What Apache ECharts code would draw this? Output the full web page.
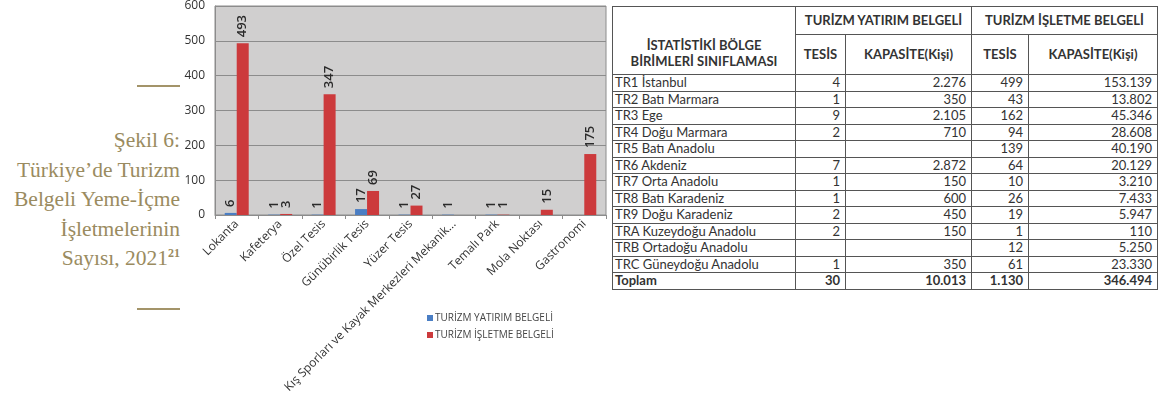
<!DOCTYPE html>
<html>
<head>
<meta charset="utf-8">
<script src="https://cdn.jsdelivr.net/npm/echarts@6/dist/echarts.min.js"></script>
<style>
  html, body { margin: 0; padding: 0; background: #fff; }
  body { width: 1162px; height: 403px; position: relative; overflow: hidden; }
  #caption {
    position: absolute; right: 982px; top: 126px; width: 220px;
    text-align: right; font-family: "Liberation Serif", serif; font-size: 21.5px;
    line-height: 29.5px; color: #9a8b60;
  }
  #caption sup { font-size: 12px; font-weight: bold; vertical-align: 8px; line-height: 0; }
  .rule { position: absolute; left: 137px; width: 43px; height: 2px; background: #a39469; }
  #chart { position: absolute; left: 180px; top: 0; width: 430px; height: 403px; }
  #tbl {
    position: absolute; left: 612px; top: 6px; width: 545px;
    border-collapse: collapse; table-layout: fixed;
    font-family: Lato, "Open Sans", sans-serif; font-size: 13px; color: #333;
  }
  #tbl td, #tbl th { border: 1px solid #555; padding: 0 5px; height: 15.5px; line-height: 15px; white-space: nowrap; overflow: hidden; }
  #tbl td:first-child { padding-left: 2px; }
  #tbl th { font-weight: bold; font-size: 13px; text-align: center; padding: 0 2px; }
  #tbl td.n { text-align: right; }
  #tbl tr.tot td { font-weight: bold; }
</style>
</head>
<body>
<div class="rule" style="top:85px"></div>
<div id="caption">Şekil 6:<br>Türkiye’de Turizm<br>Belgeli Yeme-İçme<br>İşletmelerinin<br>Sayısı, 2021<sup>21</sup></div>
<div class="rule" style="top:308px"></div>
<div id="chart"></div>
<table id="tbl"></table>
<script>
// chart data
const categories = ['Lokanta', 'Kafeterya', 'Özel Tesis', 'Günübirlik Tesis', 'Yüzer Tesis',
  'Kış Sporları ve Kayak Merkezleri Mekanik...', 'Temalı Park', 'Mola Noktası', 'Gastronomi'];
const seriesNames = ['TURİZM YATIRIM BELGELİ', 'TURİZM İŞLETME BELGELİ'];
const yatirimValues = [6, 1, 1, 17, 1, 1, 1, null, null];
const isletmeValues = [493, 3, 347, 69, 27, null, 1, 15, 175];
const yTicks = [0, 100, 200, 300, 400, 500, 600];

// table data
const regions = ['TR1 İstanbul', 'TR2 Batı Marmara', 'TR3 Ege', 'TR4 Doğu Marmara', 'TR5 Batı Anadolu',
  'TR6 Akdeniz', 'TR7 Orta Anadolu', 'TR8 Batı Karadeniz', 'TR9 Doğu Karadeniz',
  'TRA Kuzeydoğu Anadolu', 'TRB Ortadoğu Anadolu', 'TRC Güneydoğu Anadolu'];
const yatirimTesis = ['4', '1', '9', '2', '', '7', '1', '1', '2', '2', '', '1'];
const yatirimKapasite = ['2.276', '350', '2.105', '710', '', '2.872', '150', '600', '450', '150', '', '350'];
const isletmeTesis = ['499', '43', '162', '94', '139', '64', '10', '26', '19', '1', '12', '61'];
const isletmeKapasite = ['153.139', '13.802', '45.346', '28.608', '40.190', '20.129', '3.210', '7.433', '5.947', '110', '5.250', '23.330'];
const totals = ['Toplam', '30', '10.013', '1.130', '346.494'];

// build table
let html = '<colgroup><col style="width:183px"><col style="width:50px"><col style="width:126px"><col style="width:57px"><col style="width:129px"></colgroup>';
html += '<tr><th rowspan="2" style="height:62px;vertical-align:bottom;padding-bottom:5px;line-height:16px">İSTATİSTİKİ BÖLGE<br>BİRİMLERİ SINIFLAMASI</th>'
  + '<th colspan="2" style="height:26px">TURİZM YATIRIM BELGELİ</th><th colspan="2">TURİZM İŞLETME BELGELİ</th></tr>';
html += '<tr><th style="height:38px">TESİS</th><th>KAPASİTE(Kişi)</th><th>TESİS</th><th>KAPASİTE(Kişi)</th></tr>';
regions.forEach((r, i) => {
  html += '<tr><td>' + r + '</td><td class="n">' + yatirimTesis[i] + '</td><td class="n">' + yatirimKapasite[i]
    + '</td><td class="n">' + isletmeTesis[i] + '</td><td class="n">' + isletmeKapasite[i] + '</td></tr>';
});
html += '<tr class="tot">' + totals.map((t, i) => '<td' + (i ? ' class="n"' : '') + '>' + t + '</td>').join('') + '</tr>';
document.getElementById('tbl').innerHTML = html;

var myChart = echarts.init(document.getElementById('chart'));

const barLabel = {
  show: true,
  position: 'top',
  rotate: 90,
  align: 'left',
  verticalAlign: 'middle',
  distance: 6,
  fontSize: 13,
  fontWeight: 600,
  color: '#2a2a2a',
  fontFamily: 'Open Sans'
};

option = {
  animation: false,
  textStyle: { fontFamily: 'Open Sans' },
  legend: {
    orient: 'vertical',
    left: 242,
    top: 308,
    itemWidth: 6,
    itemHeight: 6,
    itemGap: 7,
    icon: 'rect',
    textStyle: { fontSize: 10, color: '#444', padding: [0, 0, 0, -3] },
    data: seriesNames
  },
  grid: {
    left: 35,
    top: 5,
    width: 391,
    height: 210,
    show: true,
    backgroundColor: '#d0cfcf',
    borderColor: '#8c8c8c',
    borderWidth: 1
  },
  xAxis: {
    type: 'category',
    data: categories,
    axisLine: { lineStyle: { color: '#8c8c8c' } },
    axisTick: { show: true, length: 4, lineStyle: { color: '#8c8c8c' } },
    axisLabel: { interval: 0, rotate: 45, fontSize: 12, color: '#333', margin: 7 }
  },
  yAxis: {
    type: 'value',
    min: yTicks[0],
    max: yTicks[yTicks.length - 1],
    interval: 100,
    axisLine: { show: true, lineStyle: { color: '#8c8c8c' } },
    axisLabel: { fontSize: 12, color: '#333', margin: 10 },
    splitLine: { lineStyle: { color: '#8c8c8c' } }
  },
  series: [
    {
      name: seriesNames[0],
      type: 'bar',
      data: yatirimValues,
      barWidth: 12,
      barGap: '0%',
      itemStyle: { color: '#4a7ec4' },
      label: barLabel
    },
    {
      name: seriesNames[1],
      type: 'bar',
      data: isletmeValues,
      barWidth: 12,
      itemStyle: { color: '#cc3a3c' },
      label: barLabel
    }
  ]
};

myChart.setOption(option);
</script>
</body>
</html>
